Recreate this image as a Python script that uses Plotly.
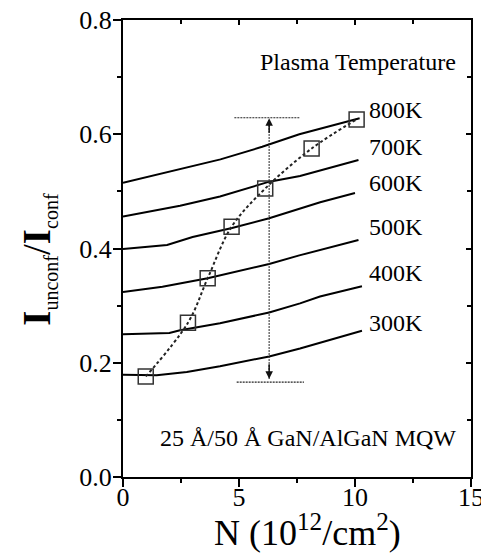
import plotly.graph_objects as go

# ---- data ----
temps = ["800K", "700K", "600K", "500K", "400K", "300K"]

n_800 = [0, 2.5, 4.2, 6.0, 7.6, 10.2]
i_800 = [0.515, 0.539, 0.556, 0.578, 0.600, 0.628]

n_700 = [0, 2.46, 4.18, 6.31, 7.63, 8.49, 10.15]
i_700 = [0.456, 0.475, 0.491, 0.517, 0.527, 0.537, 0.555]

n_600 = [0, 1.9, 3.0, 4.7, 6.3, 8.5, 10.0]
i_600 = [0.399, 0.406, 0.420, 0.436, 0.453, 0.481, 0.497]

n_500 = [0, 1.7, 3.65, 6.3, 7.6, 8.5, 10.15]
i_500 = [0.324, 0.333, 0.348, 0.373, 0.388, 0.398, 0.415]

n_400 = [0, 2.0, 2.46, 4.18, 6.3, 7.63, 8.49, 10.3]
i_400 = [0.250, 0.252, 0.257, 0.269, 0.288, 0.304, 0.316, 0.334]

n_300 = [0, 1.45, 2.75, 4.18, 6.3, 7.63, 10.3]
i_300 = [0.179, 0.178, 0.184, 0.194, 0.211, 0.225, 0.256]

label_y = [0.642, 0.577, 0.515, 0.438, 0.357, 0.270]

# measured points (open squares, dotted curve)
n_meas = [0.98, 2.80, 3.65, 4.68, 6.13, 8.13, 10.07]
i_meas = [0.176, 0.270, 0.348, 0.438, 0.505, 0.575, 0.626]

# range arrow
arrow_n = [6.3, 6.3]
arrow_i = [0.172, 0.624]
top_bar_n = [4.8, 7.6]
top_bar_i = [0.629, 0.629]
bot_bar_n = [4.9, 7.8]
bot_bar_i = [0.166, 0.166]

x_ticks = [0, 5, 10, 15]
y_ticks = [0.0, 0.2, 0.4, 0.6, 0.8]

FONT = "Liberation Serif, Times New Roman, serif"

fig = go.Figure()

curves = [(n_800, i_800), (n_700, i_700), (n_600, i_600),
          (n_500, i_500), (n_400, i_400), (n_300, i_300)]
for (nx, iy), name in zip(curves, temps):
    fig.add_trace(go.Scatter(x=nx, y=iy, mode="lines", name=name,
                             line=dict(color="black", width=2),
                             showlegend=False, hoverinfo="skip"))

# measured points drawn on the mirrored (top/right) axes so those axes render
fig.add_trace(go.Scatter(x=n_meas, y=i_meas, mode="lines+markers",
                         xaxis="x2", yaxis="y2",
                         line=dict(color="#222", width=2, dash="3px,2.5px", shape="spline"),
                         marker=dict(symbol="square-open", size=15,
                                     color="#333", line=dict(width=1.5, color="#333")),
                         showlegend=False))

fig.add_trace(go.Scatter(x=arrow_n, y=arrow_i, mode="lines",
                         line=dict(color="#222", width=1.3, dash="1.5px,1.5px"),
                         showlegend=False))
for bx, by in [(top_bar_n, top_bar_i), (bot_bar_n, bot_bar_i)]:
    fig.add_trace(go.Scatter(x=bx, y=by, mode="lines",
                             line=dict(color="#222", width=1.1, dash="2px,1px"),
                             showlegend=False))

# arrowheads
fig.add_annotation(x=arrow_n[0], y=0.628, ax=arrow_n[0], ay=0.600, xref="x", yref="y",
                   axref="x", ayref="y", showarrow=True, arrowhead=2, arrowsize=1,
                   arrowwidth=1.5, arrowcolor="#111", text="")
fig.add_annotation(x=arrow_n[0], y=0.172, ax=arrow_n[0], ay=0.200, xref="x", yref="y",
                   axref="x", ayref="y", showarrow=True, arrowhead=2, arrowsize=1,
                   arrowwidth=1.5, arrowcolor="#111", text="")

for name, ly in zip(temps, label_y):
    fig.add_annotation(x=10.5, y=ly, xref="x", yref="y", text=name, showarrow=False,
                       xanchor="left", yanchor="middle",
                       font=dict(family=FONT, size=24, color="black"))

fig.add_annotation(x=14.45, y=0.727, xref="x", yref="y", text="Plasma Temperature",
                   showarrow=False, xanchor="right", yanchor="middle",
                   font=dict(family=FONT, size=24, color="black"))
fig.add_annotation(x=14.45, y=0.068, xref="x", yref="y",
                   text="25 Å/50 Å GaN/AlGaN MQW",
                   showarrow=False, xanchor="right", yanchor="middle",
                   font=dict(family=FONT, size=24, color="black"))

# axis titles
fig.add_annotation(x=-0.245, y=0.477, xref="paper", yref="paper", textangle=-90,
                   text="<b>I</b><sub><span style='font-size:20px'>unconf</span></sub>/"
                        "<b>I</b><sub><span style='font-size:20px'>conf</span></sub>",
                   showarrow=False, xanchor="center", yanchor="middle",
                   font=dict(family=FONT, size=39, color="black"))
fig.add_annotation(x=0.53, y=-0.117, xref="paper", yref="paper",
                   text="N (10<sup>12</sup>/cm<sup>2</sup>)",
                   showarrow=False, xanchor="center", yanchor="middle",
                   font=dict(family=FONT, size=36, color="black"))

axis_common = dict(showgrid=False, zeroline=False, showline=True,
                   linecolor="black", linewidth=2, automargin=False)

fig.update_layout(
    width=481, height=548,
    margin=dict(l=115, r=18, t=12, b=79),
    paper_bgcolor="white", plot_bgcolor="white",
    font=dict(family=FONT, size=26, color="black"),
    xaxis=dict(range=[0, 15], tickvals=x_ticks, ticktext=[str(v) for v in x_ticks],
               ticks="outside", ticklen=8, tickwidth=1.5, tickcolor="black",
               ticklabelstandoff=-12, ticklabeloverflow="allow",
               minor=dict(ticks="outside", ticklen=4, tickwidth=1.5, dtick=2.5, tickcolor="black"),
               tickfont=dict(family=FONT, size=26), **axis_common),
    yaxis=dict(range=[0, 0.8], tickvals=y_ticks, ticktext=[f"{v:.1f}" for v in y_ticks],
               ticks="outside", ticklen=8, tickwidth=1.5, tickcolor="black",
               ticklabelstandoff=-4, ticklabeloverflow="allow",
               minor=dict(ticks="outside", ticklen=4, tickwidth=1.5, dtick=0.1, tickcolor="black"),
               tickfont=dict(family=FONT, size=26), **axis_common),
    xaxis2=dict(range=[0, 15], overlaying="x", side="top", anchor="y2", tickvals=x_ticks,
                showticklabels=False, ticks="inside", ticklen=5, tickwidth=1.5, tickcolor="black",
                minor=dict(ticks="inside", ticklen=4, tickwidth=1.5, dtick=2.5, tickcolor="black"),
                **axis_common),
    yaxis2=dict(range=[0, 0.8], overlaying="y", side="right", anchor="x2", tickvals=y_ticks,
                showticklabels=False, ticks="inside", ticklen=5, tickwidth=1.5, tickcolor="black",
                minor=dict(ticks="inside", ticklen=4, tickwidth=1.5, dtick=0.1, tickcolor="black"),
                **axis_common),
)

fig.write_html("out.html")
